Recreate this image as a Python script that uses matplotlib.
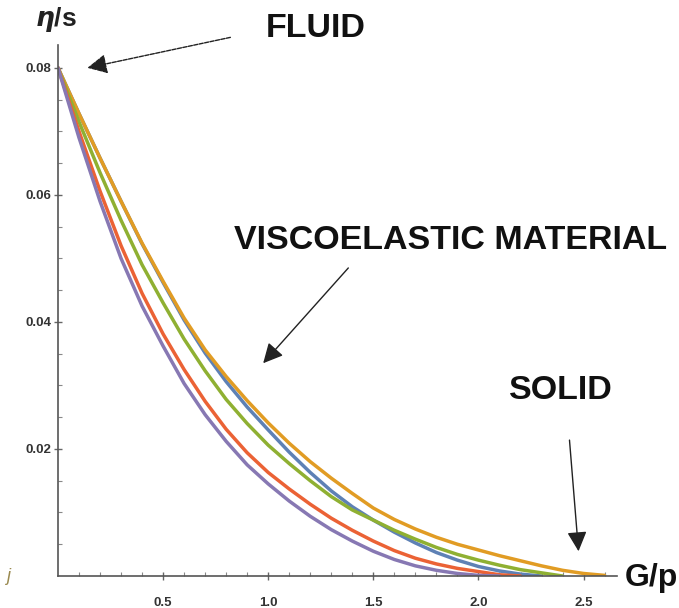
import numpy as np
import matplotlib
matplotlib.use("Agg")
from matplotlib import pyplot as plt

plt.rcParams['font.family'] = ['Liberation Sans', 'DejaVu Sans']

# G/p grid (shared by all curves)
x_grid = [0.0, 0.1, 0.2, 0.3, 0.4, 0.5, 0.6, 0.7, 0.8, 0.9, 1.0, 1.1, 1.2, 1.3,
          1.4, 1.5, 1.6, 1.7, 1.8, 1.9, 2.0, 2.1, 2.2, 2.3, 2.4, 2.5, 2.6]

eta_blue = [0.0800, 0.0728, 0.0658, 0.0590, 0.0523, 0.0462, 0.0403, 0.0351, 0.0306,
            0.0266, 0.0230, 0.0195, 0.0163, 0.0134, 0.0109, 0.0088, 0.0069, 0.0052,
            0.0037, 0.0025, 0.0015, 0.0008, 0.0003, 0.0]
eta_orange = [0.0800, 0.0728, 0.0658, 0.0590, 0.0524, 0.0464, 0.0406, 0.0356, 0.0314,
              0.0276, 0.0241, 0.0209, 0.0180, 0.0154, 0.0130, 0.0107, 0.0089, 0.0074,
              0.0061, 0.0050, 0.0041, 0.0032, 0.0024, 0.0016, 0.0009, 0.0004, 0.0001]
eta_green = [0.0800, 0.0715, 0.0635, 0.0560, 0.0490, 0.0430, 0.0373, 0.0323, 0.0278,
             0.0240, 0.0206, 0.0177, 0.0150, 0.0125, 0.0104, 0.0088, 0.0072, 0.0058,
             0.0045, 0.0034, 0.0025, 0.0017, 0.0010, 0.0005, 0.0]
eta_red = [0.0800, 0.0700, 0.0606, 0.0520, 0.0445, 0.0381, 0.0325, 0.0275, 0.0231,
           0.0194, 0.0163, 0.0137, 0.0113, 0.0091, 0.0072, 0.0055, 0.0040, 0.0028,
           0.0019, 0.0012, 0.0007, 0.0002, 0.0]
eta_purple = [0.0800, 0.0690, 0.0590, 0.0500, 0.0425, 0.0362, 0.0303, 0.0254, 0.0212,
              0.0175, 0.0145, 0.0118, 0.0094, 0.0073, 0.0055, 0.0039, 0.0026, 0.0016,
              0.0009, 0.0004, 0.0001, 0.0]

series = [(eta_blue, '#5E81B5'), (eta_orange, '#E19C24'), (eta_green, '#8FB032'),
          (eta_red, '#EB6235'), (eta_purple, '#8778B3')]

x_ticks = [0.5, 1.0, 1.5, 2.0, 2.5]
y_ticks = [0.02, 0.04, 0.06, 0.08]

fig = plt.figure(figsize=(6.79, 6.08), dpi=100)
ax = fig.add_axes([0.0854, 0.0526, 0.8236, 0.8734])

for vals, col in series:
    ax.plot(x_grid[:len(vals)], vals, color=col, lw=2.5, solid_capstyle='round')

ax.set_xlim(0, 2.66)
ax.set_ylim(0, 0.0836)
for s in ['top', 'right']:
    ax.spines[s].set_visible(False)
for s in ['left', 'bottom']:
    ax.spines[s].set_color('#555555')
    ax.spines[s].set_linewidth(1.2)

ax.set_xticks(x_ticks)
ax.set_xticklabels(['%.1f' % v for v in x_ticks])
ax.set_xticks(np.arange(0.1, 2.65, 0.1), minor=True)
ax.set_yticks(y_ticks)
ax.set_yticklabels(['%.2f' % v for v in y_ticks])
ax.set_yticks(np.arange(0.005, 0.083, 0.005), minor=True)
ax.tick_params(axis='both', which='major', direction='inout', length=6, width=1,
               color='#666666', labelsize=9.5, labelcolor='#333333')
ax.tick_params(axis='both', which='minor', direction='in', length=3, width=0.8,
               color='#888888')
ax.tick_params(axis='x', pad=12)
ax.tick_params(axis='y', pad=2)
for lab in ax.get_xticklabels() + ax.get_yticklabels():
    lab.set_fontweight('bold')

# axis labels in the corners
fig.text(0.082, 0.968, r'$\boldsymbol{\eta}$/s', fontsize=19, fontweight='bold',
         ha='center', va='center', color='#222222')
fig.text(0.960, 0.050, 'G/p', fontsize=23, fontweight='bold', ha='center',
         va='center', color='#111111')
fig.text(0.012, 0.052, 'j', fontsize=13, style='italic', color='#9a8a50',
         ha='center', va='center')

arrow_kw = dict(arrowstyle='-|>', mutation_scale=30, color='#222222', lw=1.0,
                shrinkA=0, shrinkB=0)

ax.annotate('', xy=(0.14, 0.0800), xytext=(0.82, 0.0848), xycoords='data',
            arrowprops=dict(arrow_kw, linestyle=(0, (3, 1))), annotation_clip=False)
ax.annotate('', xy=(0.976, 0.0335), xytext=(1.381, 0.0485),
            arrowprops=arrow_kw, annotation_clip=False)
ax.annotate('', xy=(2.476, 0.0039), xytext=(2.433, 0.0214),
            arrowprops=arrow_kw, annotation_clip=False)

txt_kw = dict(fontsize=24.5, fontweight='bold', ha='center', va='center', color='#111111')
ax.text(1.224, 0.0862, 'FLUID', clip_on=False, **txt_kw)
ax.text(1.867, 0.0528, 'VISCOELASTIC MATERIAL', clip_on=False, **txt_kw)
ax.text(2.390, 0.0292, 'SOLID', clip_on=False, **txt_kw)

fig.savefig('out.png', dpi=100)
